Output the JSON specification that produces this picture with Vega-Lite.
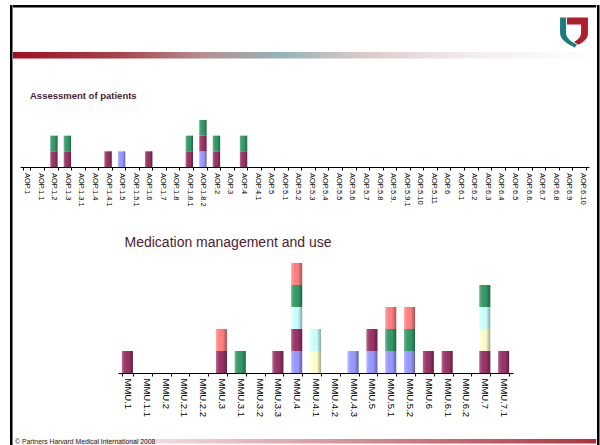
{
  "$schema": "https://vega.github.io/schema/vega-lite/v6.json",
  "padding": {"left": 10, "top": 5, "right": 0, "bottom": 0},
  "background": "white",
  "config": {"view": {"stroke": null}, "font": "Liberation Sans", "concat": {"spacing": 0}},
  "datasets": {
    "one": [{"k": 1}],
    "aop": [
      {"code": "AOP.1.2", "series": "S2", "n": 1}, {"code": "AOP.1.2", "series": "S5", "n": 1},
      {"code": "AOP.1.3", "series": "S2", "n": 1}, {"code": "AOP.1.3", "series": "S5", "n": 1},
      {"code": "AOP.1.4.1", "series": "S2", "n": 1},
      {"code": "AOP.1.5", "series": "S1", "n": 1},
      {"code": "AOP.1.6", "series": "S2", "n": 1},
      {"code": "AOP.1.8.1", "series": "S2", "n": 1}, {"code": "AOP.1.8.1", "series": "S5", "n": 1},
      {"code": "AOP.1.8.2", "series": "S1", "n": 1}, {"code": "AOP.1.8.2", "series": "S2", "n": 1}, {"code": "AOP.1.8.2", "series": "S5", "n": 1},
      {"code": "AOP.2", "series": "S2", "n": 1}, {"code": "AOP.2", "series": "S5", "n": 1},
      {"code": "AOP.4", "series": "S2", "n": 1}, {"code": "AOP.4", "series": "S5", "n": 1}
    ],
    "mmu": [
      {"code": "MMU.1", "series": "S2", "n": 1},
      {"code": "MMU.3", "series": "S2", "n": 1}, {"code": "MMU.3", "series": "S6", "n": 1},
      {"code": "MMU.3.1", "series": "S5", "n": 1},
      {"code": "MMU.3.3", "series": "S2", "n": 1},
      {"code": "MMU.4", "series": "S1", "n": 1}, {"code": "MMU.4", "series": "S2", "n": 1}, {"code": "MMU.4", "series": "S4", "n": 1}, {"code": "MMU.4", "series": "S5", "n": 1}, {"code": "MMU.4", "series": "S6", "n": 1},
      {"code": "MMU.4.1", "series": "S3", "n": 1}, {"code": "MMU.4.1", "series": "S4", "n": 1},
      {"code": "MMU.4.3", "series": "S1", "n": 1},
      {"code": "MMU.5", "series": "S1", "n": 1}, {"code": "MMU.5", "series": "S2", "n": 1},
      {"code": "MMU.5.1", "series": "S1", "n": 1}, {"code": "MMU.5.1", "series": "S5", "n": 1}, {"code": "MMU.5.1", "series": "S6", "n": 1},
      {"code": "MMU.5.2", "series": "S1", "n": 1}, {"code": "MMU.5.2", "series": "S5", "n": 1}, {"code": "MMU.5.2", "series": "S6", "n": 1},
      {"code": "MMU.6", "series": "S2", "n": 1},
      {"code": "MMU.6.1", "series": "S2", "n": 1},
      {"code": "MMU.7", "series": "S2", "n": 1}, {"code": "MMU.7", "series": "S3", "n": 1}, {"code": "MMU.7", "series": "S4", "n": 1}, {"code": "MMU.7", "series": "S5", "n": 1},
      {"code": "MMU.7.1", "series": "S2", "n": 1}
    ]
  },
  "hconcat": [
    {"width": 2.5, "height": 440, "data": {"name": "one"}, "mark": {"type": "rect", "color": "#000000"}},
    {
      "spacing": 0,
      "vconcat": [
        {"width": 583.2, "height": 2.5, "data": {"name": "one"}, "mark": {"type": "rect", "color": "#000000"}},
        {
          "spacing": 0,
          "hconcat": [
            {"width": 545.5, "height": 43.5, "data": {"name": "one"}, "mark": {"type": "rect", "opacity": 0}},
            {
              "width": 30, "height": 43.5, "data": {"name": "one"},
              "layer": [
                {"mark": {"type": "point", "shape": "M -0.93 -0.82 L -0.53 -0.82 L -0.53 0.2 C -0.53 0.55 -0.2 0.8 0.2 0.98 L 0.05 1.18 C -0.45 0.95 -0.93 0.65 -0.93 0.2 Z", "size": 900, "filled": true, "color": "#1f7a80", "opacity": 1, "strokeWidth": 0}},
                {"mark": {"type": "point", "shape": "M -0.47 -0.82 L 0.93 -0.82 L 0.93 0.25 C 0.93 0.6 0.6 0.85 0.3 1.0 L 0.0 0.82 C 0.3 0.65 0.47 0.45 0.47 0.2 L 0.47 -0.35 L -0.47 -0.35 Z", "size": 900, "filled": true, "color": "#b01e2e", "opacity": 1, "strokeWidth": 0}}
              ]
            }
          ]
        },
        {
          "width": 583.2, "height": 6.5, "data": {"name": "one"},
          "mark": {"type": "rect", "fill": {"gradient": "linear", "x1": 0, "y1": 0, "x2": 1, "y2": 0, "stops": [
            {"offset": 0, "color": "#a30d1f"},
            {"offset": 0.18, "color": "#a8424c"},
            {"offset": 0.33, "color": "#b98f92"},
            {"offset": 0.46, "color": "#93b4b7"},
            {"offset": 0.6, "color": "#dcc9c9"},
            {"offset": 0.78, "color": "#f4ecec"},
            {"offset": 1, "color": "#ffffff"}
          ]}}
        },
        {"width": 1, "height": 30.5, "data": {"name": "one"}, "mark": {"type": "rect", "opacity": 0}},
        {
          "spacing": 0,
          "hconcat": [
            {"width": 3, "height": 1, "data": {"name": "one"}, "mark": {"type": "rect", "opacity": 0}},
            {
              "width": 569, "height": 47,
              "data": {"name": "aop"},
              "title": {"text": "Assessment of patients", "anchor": "start", "fontSize": 9.5, "fontWeight": "bold", "color": "#4b1d33", "offset": 20, "dx": 13.5, "font": "Liberation Sans"},
              "encoding": {
                "x": {"field": "code", "type": "nominal",
                  "scale": {"domain": ["AOP.1","AOP.1.1","AOP.1.2","AOP.1.3","AOP.1.3.1","AOP.1.4","AOP.1.4.1","AOP.1.5","AOP.1.5.1","AOP.1.6","AOP.1.7","AOP.1.8","AOP.1.8.1","AOP.1.8.2","AOP.2","AOP.3","AOP.4","AOP.4.1","AOP.5","AOP.5.1","AOP.5.2","AOP.5.3","AOP.5.4","AOP.5.5","AOP.5.6","AOP.5.7","AOP.5.8","AOP.5.9.","AOP.5.9.1","AOP.5.10","AOP.5.11","AOP.6","AOP.6.1","AOP.6.2","AOP.6.3","AOP.6.4","AOP.6.5","AOP.6.6.","AOP.6.7","AOP.6.8","AOP.6.9","AOP.6.10"], "paddingInner": 0.46, "paddingOuter": 0.23},
                  "axis": {"title": null, "labelAngle": 90, "labelAlign": "left", "labelBaseline": "middle", "labelFontSize": 7.5, "labelColor": "#000000", "labelPadding": 2.5, "tickBand": "extent", "tickSize": 3, "tickColor": "#000000", "domainColor": "#000000", "domainWidth": 1, "labelOverlap": false, "labelFlush": false, "labelLimit": 0}},
                "y": {"field": "n", "type": "quantitative", "stack": "zero", "scale": {"domain": [0, 3]}, "axis": null},
                "order": {"field": "series", "type": "nominal", "sort": "ascending"}
              },
              "layer": [
                {"mark": {"type": "bar"}, "encoding": {"color": {"field": "series", "type": "nominal", "scale": {"domain": ["S1","S2","S3","S4","S5","S6"], "range": ["#9999ff","#993366","#ffffcc","#ccffff","#339966","#ff8080"]}, "legend": null}}},
                {"mark": {"type": "bar", "fill": {"gradient": "linear", "x1": 0, "y1": 0, "x2": 1, "y2": 0, "stops": [
                  {"offset": 0, "color": "rgba(255,255,255,0.3)"},
                  {"offset": 0.2, "color": "rgba(255,255,255,0.08)"},
                  {"offset": 0.6, "color": "rgba(0,0,0,0)"},
                  {"offset": 1, "color": "rgba(0,0,0,0.35)"}
                ]}}, "encoding": {"detail": {"field": "series", "type": "nominal"}}}
              ]
            }
          ]
        },
        {"width": 1, "height": 28.5, "data": {"name": "one"}, "mark": {"type": "rect", "opacity": 0}},
        {
          "spacing": 0,
          "hconcat": [
            {"width": 100, "height": 1, "data": {"name": "one"}, "mark": {"type": "rect", "opacity": 0}},
            {
              "width": 395, "height": 110,
              "data": {"name": "mmu"},
              "title": {"text": "Medication management and use", "anchor": "start", "fontSize": 14, "fontWeight": "normal", "color": "#4b1d33", "offset": 13, "dx": 11, "font": "Liberation Sans"},
              "encoding": {
                "x": {"field": "code", "type": "nominal",
                  "scale": {"domain": ["MMU.1","MMU.1.1","MMU.2","MMU.2.1","MMU.2.2","MMU.3","MMU.3.1","MMU.3.2","MMU.3.3","MMU.4","MMU.4.1","MMU.4.2","MMU.4.3","MMU.5","MMU.5.1","MMU.5.2","MMU.6","MMU.6.1","MMU.6.2","MMU.7","MMU.7.1"], "paddingInner": 0.415, "paddingOuter": 0.2075},
                  "axis": {"title": null, "labelAngle": 90, "labelAlign": "left", "labelBaseline": "middle", "labelFontSize": 9.5, "labelColor": "#000000", "labelPadding": 2, "tickBand": "extent", "tickSize": 3, "tickColor": "#000000", "domainColor": "#000000", "domainWidth": 1, "labelOverlap": false, "labelFlush": false, "labelLimit": 0}},
                "y": {"field": "n", "type": "quantitative", "stack": "zero", "scale": {"domain": [0, 5]}, "axis": null},
                "order": {"field": "series", "type": "nominal", "sort": "ascending"}
              },
              "layer": [
                {"mark": {"type": "bar"}, "encoding": {"color": {"field": "series", "type": "nominal", "scale": {"domain": ["S1","S2","S3","S4","S5","S6"], "range": ["#9999ff","#993366","#ffffcc","#ccffff","#339966","#ff8080"]}, "legend": null}}},
                {"mark": {"type": "bar", "fill": {"gradient": "linear", "x1": 0, "y1": 0, "x2": 1, "y2": 0, "stops": [
                  {"offset": 0, "color": "rgba(255,255,255,0.3)"},
                  {"offset": 0.2, "color": "rgba(255,255,255,0.08)"},
                  {"offset": 0.6, "color": "rgba(0,0,0,0)"},
                  {"offset": 1, "color": "rgba(0,0,0,0.35)"}
                ]}}, "encoding": {"detail": {"field": "series", "type": "nominal"}}}
              ]
            }
          ]
        },
        {"width": 1, "height": 22, "data": {"name": "one"}, "mark": {"type": "rect", "opacity": 0}},
        {
          "width": 583.2, "height": 4.5, "data": {"name": "one"},
          "title": {"text": "© Partners Harvard Medical International 2008", "orient": "bottom", "anchor": "start", "fontSize": 6.8, "fontWeight": "normal", "color": "#222222", "offset": -4.5, "dx": 2, "font": "Liberation Sans"},
          "mark": {"type": "rect", "fill": {"gradient": "linear", "x1": 0, "y1": 0, "x2": 1, "y2": 0, "stops": [
            {"offset": 0, "color": "#ffffff"},
            {"offset": 0.2, "color": "#f6e6e8"},
            {"offset": 0.5, "color": "#dba3a9"},
            {"offset": 1, "color": "#b2303e"}
          ]}}
        }
      ]
    },
    {"width": 2.5, "height": 440, "data": {"name": "one"}, "mark": {"type": "rect", "color": "#000000"}}
  ]
}
